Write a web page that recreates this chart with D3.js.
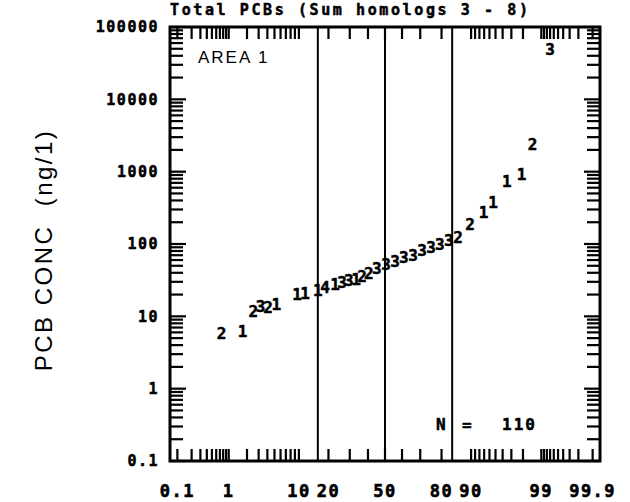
<!DOCTYPE html>
<html><head><meta charset="utf-8">
<script src="https://d3js.org/d3.v7.min.js"></script>
<style>
html,body{margin:0;padding:0;background:#fff;}
svg{display:block;}
</style></head>
<body>
<script>
// ---- data ----
const title = "Total PCBs (Sum homologs 3 - 8)";
const yTitle = "PCB CONC  (ng/1)";
const xTickLabels = [0.1, 1, 10, 20, 50, 80, 90, 99, 99.9];
const yTickLabels = [0.1, 1, 10, 100, 1000, 10000, 100000];
const refLines = [15.87, 50, 84.13];
const probs = [0.75,1.7,2.5,3.2,4.1,5.3,9.5,11.7,15.9,18.6,22.9,26.1,29.5,33.4,36.7,40.5,45.2,50.6,55.9,61,66.2,70.9,75.3,79.3,82.9,86.2,89.7,92.9,94.6,96.5,97.9,98.6,99.3];
const concs = [5.9,6.3,11.6,13.6,13.2,14.5,20,20.6,23.3,24.9,27.4,29.2,31.1,33,35.3,38.9,45.7,52,57,65,71,81,89,98,111,123,186,272,372,731,912,2380,49000];
const codes = ["2","1","2","3","2","1","1","1","1","4","1","3","3","1","2","2","3","3","3","3","3","3","3","3","3","2","2","1","1","1","1","2","3"];
const areaLabel = "AREA 1";
const panelNo = "3";
const nCount = 110;

// inverse normal CDF (Acklam)
function probit(p){
  const a=[-3.969683028665376e+01,2.209460984245205e+02,-2.759285104469687e+02,1.383577518672690e+02,-3.066479806614716e+01,2.506628277459239e+00];
  const b=[-5.447609879822406e+01,1.615858368580409e+02,-1.556989798598866e+02,6.680131188771972e+01,-1.328068155288572e+01];
  const c=[-7.784894002430293e-03,-3.223964580411365e-01,-2.400758277161838e+00,-2.549732539343734e+00,4.374664141464968e+00,2.938163982698783e+00];
  const d=[7.784695709041462e-03,3.224671290700398e-01,2.445134137142996e+00,3.754408661907416e+00];
  const pl=0.02425, ph=1-pl; let q,r;
  if(p<pl){q=Math.sqrt(-2*Math.log(p));return (((((c[0]*q+c[1])*q+c[2])*q+c[3])*q+c[4])*q+c[5])/((((d[0]*q+d[1])*q+d[2])*q+d[3])*q+1);}
  if(p<=ph){q=p-0.5;r=q*q;return (((((a[0]*r+a[1])*r+a[2])*r+a[3])*r+a[4])*r+a[5])*q/(((((b[0]*r+b[1])*r+b[2])*r+b[3])*r+b[4])*r+1);}
  q=Math.sqrt(-2*Math.log(1-p));return -(((((c[0]*q+c[1])*q+c[2])*q+c[3])*q+c[4])*q+c[5])/((((d[0]*q+d[1])*q+d[2])*q+d[3])*q+1);
}

const W=630,H=502;
const L=170,R=600,T=27,B=461;
const zScale = d3.scaleLinear().domain([-3.2,3.2]).range([L,R]);
const x = pct => zScale(probit(pct/100));
const y = d3.scaleLog().domain([0.1,100000]).range([B,T]);

const svg = d3.select("body").append("svg").attr("width",W).attr("height",H);
const mono = "'DejaVu Sans Mono', monospace";
const sans = "'Liberation Sans', Arial, sans-serif";

// probability ticks
const pTicks = [];
for(let i=1;i<=9;i++) pTicks.push(i/10);
for(let i=1;i<=9;i++) pTicks.push(i);
for(let i=10;i<=90;i+=10) pTicks.push(i);
for(let i=91;i<=99;i++) pTicks.push(i);
for(let i=1;i<=9;i++) pTicks.push(99+i/10);

const g = svg.append("g");
g.selectAll("line.bt").data(pTicks).join("line")
  .attr("x1",d=>x(d)).attr("x2",d=>x(d)).attr("y1",B).attr("y2",B-12)
  .attr("stroke","#000").attr("stroke-width",2.2);
g.selectAll("line.tt").data(pTicks).join("line")
  .attr("x1",d=>x(d)).attr("x2",d=>x(d)).attr("y1",T).attr("y2",T+12)
  .attr("stroke","#000").attr("stroke-width",2.2);

const yTicks = [];
for(let e=-1;e<5;e++) for(let m=1;m<=9;m++) yTicks.push(m*Math.pow(10,e));
yTicks.push(100000);
g.selectAll("line.lt").data(yTicks).join("line")
  .attr("x1",L).attr("x2",d=>L+(Math.abs(Math.log10(d)%1)<1e-9?16:13)).attr("y1",d=>y(d)).attr("y2",d=>y(d))
  .attr("stroke","#000").attr("stroke-width",2.2);
g.selectAll("line.rt").data(yTicks).join("line")
  .attr("x1",R).attr("x2",d=>R-(Math.abs(Math.log10(d)%1)<1e-9?16:13)).attr("y1",d=>y(d)).attr("y2",d=>y(d))
  .attr("stroke","#000").attr("stroke-width",2.2);

g.selectAll("line.ref").data(refLines).join("line")
  .attr("x1",d=>x(d)).attr("x2",d=>x(d)).attr("y1",T).attr("y2",B)
  .attr("stroke","#000").attr("stroke-width",2);

svg.append("rect").attr("x",L).attr("y",T).attr("width",R-L).attr("height",B-T)
  .attr("fill","none").attr("stroke","#000").attr("stroke-width",3);

// x tick labels
svg.selectAll("text.xl").data(xTickLabels).join("text")
  .attr("x",d=>x(d)).attr("y",497).attr("text-anchor","middle")
  .attr("font-family",mono).attr("font-weight","bold").attr("font-size",17)
  .attr("stroke","#000").attr("stroke-width",0.6)
  .attr("letter-spacing",1.5).text(d=>String(d));

// y tick labels
svg.selectAll("text.yl").data(yTickLabels).join("text")
  .attr("x",159).attr("y",d=>y(d)).attr("dy","0.35em").attr("text-anchor","end")
  .attr("font-family",mono).attr("font-weight","bold").attr("font-size",15)
  .attr("stroke","#000").attr("stroke-width",0.5)
  .attr("letter-spacing",1.5).text(d=>String(d));

// title
svg.append("text").attr("x",170).attr("y",15)
  .attr("font-family",mono).attr("font-weight","bold").attr("font-size",15)
  .attr("stroke","#000").attr("stroke-width",0.5)
  .attr("letter-spacing",2.6).text(title);

// y axis title
svg.append("text").attr("transform","translate(52,250) rotate(-90)")
  .attr("text-anchor","middle").attr("font-family",sans)
  .attr("font-size",24).attr("letter-spacing",2.5).style("white-space","pre").text(yTitle);

// area label
svg.append("text").attr("x",198).attr("y",63)
  .attr("font-family",sans).attr("font-size",17)
  .attr("letter-spacing",2).text(areaLabel);

// N label
const nt = svg.append("text").attr("y",430).attr("font-family",mono).attr("font-weight","bold").attr("font-size",16)
  .attr("stroke","#000").attr("stroke-width",0.5);
nt.append("tspan").attr("x",436).text("N");
nt.append("tspan").attr("x",462).text("=");
nt.append("tspan").attr("x",502).attr("letter-spacing",2).text(String(nCount));

// points as digits
svg.selectAll("text.pt").data(probs.map((p,i)=>({p,c:concs[i],k:codes[i]}))).join("text")
  .attr("x",d=>x(d.p)).attr("y",d=>y(d.c)).attr("dy","0.36em").attr("text-anchor","middle")
  .attr("font-family",mono).attr("font-weight","bold").attr("font-size",16)
  .attr("stroke","#000").attr("stroke-width",0.5)
  .text(d=>d.k);
</script>
</body></html>
